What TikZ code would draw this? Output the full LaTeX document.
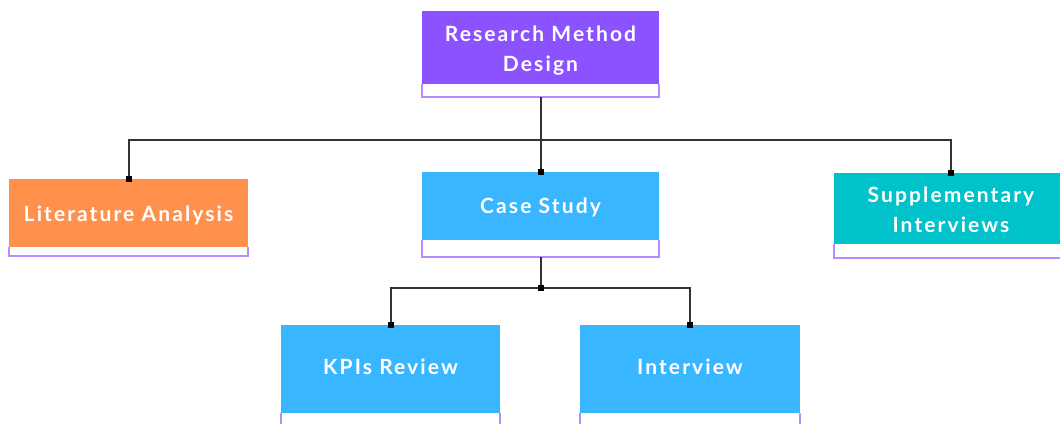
\documentclass[tikz,border=0pt]{standalone}
\usepackage{fontspec}
\setmainfont{Lato}[LetterSpace=10]
\definecolor{rmpurple}{HTML}{8C52FF}
\definecolor{litorange}{HTML}{FF914D}
\definecolor{caseblue}{HTML}{38B6FF}
\definecolor{suppteal}{HTML}{00C2CB}
\definecolor{stripline}{HTML}{B68CFF}
\definecolor{wire}{HTML}{333333}
\tikzset{
  x=1pt, y=-1pt,
  headbox/.style={anchor=north west, inner sep=0pt, outer sep=0pt},
  headtext/.style={inner sep=0pt, text=white, align=center,
    font=\bfseries\fontsize{21}{30}\selectfont},
  strip/.style={draw=stripline, line width=1.4pt, fill=white},
  wirestyle/.style={draw=wire, line width=2pt},
  joint/.style={fill=black, inner sep=0pt, minimum size=6pt, shape=rectangle}
}
\begin{document}
\begin{tikzpicture}
\useasboundingbox (0,0) rectangle (1060,423);
\clip (0,0) rectangle (1060,423);

% coloured heads of the boxes
\node[headbox, fill=rmpurple, minimum width=237pt, minimum height=73pt] (rmd) at (422,11) {};
\node[headbox, fill=litorange, minimum width=239pt, minimum height=68pt] (lit) at (9,179) {};
\node[headbox, fill=caseblue, minimum width=237pt, minimum height=68pt] (case) at (422,172) {};
\node[headbox, fill=suppteal, minimum width=234pt, minimum height=71pt] (supp) at (834,173) {};
\node[headbox, fill=caseblue, minimum width=219pt, minimum height=88pt] (kpi) at (281,325) {};
\node[headbox, fill=caseblue, minimum width=220pt, minimum height=88pt] (intv) at (580,325) {};

% box titles
\node[headtext] (rmd-t) at ([yshift=-3pt]rmd.center) {Research Method\\Design};
\node[headtext] (lit-t) at ([yshift=-2pt]lit.center) {Literature Analysis};
\node[headtext] (case-t) at ([yshift=-1pt]case.center) {Case Study};
\node[headtext] (supp-t) at ([yshift=-1.5pt]supp.center) {Supplementary\\Interviews};
\node[headtext] (kpi-t) at ([yshift=2pt]kpi.center) {KPIs Review};
\node[headtext] (intv-t) at ([yshift=2pt]intv.center) {Interview};

% white strips under the heads
\draw[strip] (rmd.south west) -- ++(0,13) -| (rmd.south east);
\draw[strip] (lit.south west) -- ++(0,9) -| (lit.south east);
\draw[strip] (case.south west) -- ++(0,17) -| (case.south east);
\draw[strip] (supp.south west) -- ++(0,14) -| (supp.south east);
\draw[strip] (kpi.south west) -- ++(0,20) -| (kpi.south east);
\draw[strip] (intv.south west) -- ++(0,20) -| (intv.south east);

\coordinate (rmdfoot) at ([yshift=-13pt]rmd.south);
\coordinate (casefoot) at ([yshift=-17pt]case.south);
\coordinate (topbus) at (rmdfoot |- 0,140);
\coordinate (lowbus) at (casefoot |- 0,288);

% connectors
\draw[wirestyle] (rmdfoot) -- (topbus);
\draw[wirestyle] (topbus) -| (lit.north);
\draw[wirestyle] (topbus) -- (case.north);
\draw[wirestyle] (topbus) -| (supp.north);
\draw[wirestyle] (casefoot) -- (lowbus);
\draw[wirestyle] (lowbus) -| (kpi.north);
\draw[wirestyle] (lowbus) -| (intv.north);

% joints
\node[joint] at (lit.north) {};
\node[joint] at (case.north) {};
\node[joint] at (supp.north) {};
\node[joint] at (lowbus) {};
\node[joint] at (kpi.north) {};
\node[joint] at (intv.north) {};
\end{tikzpicture}
\end{document}
